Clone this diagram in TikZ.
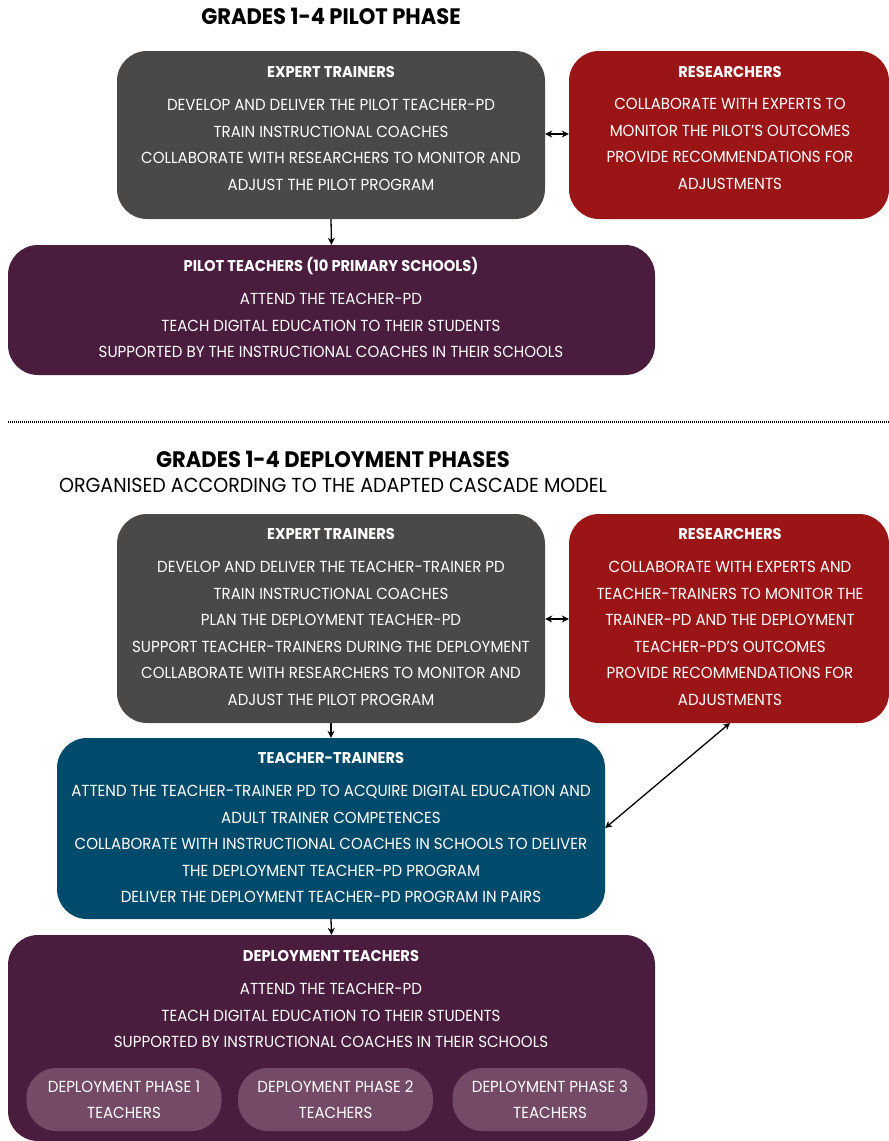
\documentclass[tikz,border=0pt]{standalone}
\usepackage{fontspec}
\setmainfont{Poppins}[FakeStretch=0.94]
\definecolor{expertgrey}{RGB}{74, 73, 72}
\definecolor{resred}{RGB}{155, 21, 22}
\definecolor{teachpurple}{RGB}{74, 28, 61}
\definecolor{trainerblue}{RGB}{0, 75, 108}
\definecolor{phasepill}{RGB}{116, 74, 103}
\usetikzlibrary{arrows.meta, positioning, calc}
\tikzset{
  box/.style={rounded corners=30pt, inner sep=0pt},
  pill/.style={rounded corners=30pt, inner sep=0pt, fill=phasepill, minimum width=195pt, minimum height=63pt},
  head/.style={text=white, font=\fontsize{15.6}{18}\selectfont\bfseries, anchor=base, yshift=-1pt},
  body/.style={text=white, font=\fontsize{16}{19}\selectfont, anchor=base, yshift=-1pt},
  title/.style={font=\fontsize{22.4}{26}\selectfont\bfseries, anchor=base},
  link/.style={line width=1.3pt, -{Stealth[length=7pt, width=7pt]}},
  twolink/.style={line width=1.3pt, {Stealth[length=7pt, width=7pt]}-{Stealth[length=7pt, width=7pt]}}
}
\begin{document}
\begin{tikzpicture}[x=1pt, y=-1pt]
  \useasboundingbox (0,0) rectangle (889,1141);

  % Pilot phase
  \node[title] (pilottitle) at (331, 24) {GRADES 1-4 PILOT PHASE};

  \node[box, fill=expertgrey, minimum width=428pt, minimum height=168pt] (expert1) at (331, 135) {};
  \node[box, fill=resred, minimum width=320pt, minimum height=168pt] (res1) at (729, 135) {};
  \node[box, fill=teachpurple, minimum width=647pt, minimum height=130pt] (pilot) at (331.5, 310) {};

  \node[head] at (331, 76) {EXPERT TRAINERS};
  \foreach \t [count=\i] in {DEVELOP AND DELIVER THE PILOT TEACHER-PD, TRAIN INSTRUCTIONAL COACHES,
      COLLABORATE WITH RESEARCHERS TO MONITOR AND, ADJUST THE PILOT PROGRAM}
    \node[body] at (331, 109.5 + 26.5*\i - 26.5) {\t};

  \node[head] at (730, 76) {RESEARCHERS};
  \foreach \t [count=\i] in {COLLABORATE WITH EXPERTS TO, MONITOR THE PILOT'S OUTCOMES,
      PROVIDE RECOMMENDATIONS FOR, ADJUSTMENTS}
    \node[body] at (730, 108.5 + 26.5*\i - 26.5) {\t};

  \node[head] at (331, 270) {PILOT TEACHERS (10 PRIMARY SCHOOLS)};
  \foreach \t [count=\i] in {ATTEND THE TEACHER-PD, TEACH DIGITAL EDUCATION TO THEIR STUDENTS,
      SUPPORTED BY THE INSTRUCTIONAL COACHES IN THEIR SCHOOLS}
    \node[body] at (331, 303.5 + 26.5*\i - 26.5) {\t};

  \draw[twolink] (expert1.east |- 0,134) -- (res1.west |- 0,134);
  \draw[link] (expert1.south) -- (pilot.north);

  % Separator
  \draw[line width=1.3pt, dash pattern=on 1pt off 1pt] (8, 422) -- (889, 422);

  % Deployment phases
  \node[title] (deptitle) at (333, 467) {GRADES 1-4 DEPLOYMENT PHASES};
  \node[font=\fontsize{20.3}{24}\selectfont, anchor=base] (depsub) at (333, 492.5) {ORGANISED ACCORDING TO THE ADAPTED CASCADE MODEL};

  \node[box, fill=expertgrey, minimum width=428pt, minimum height=209pt] (expert2) at (331, 618.5) {};
  \node[box, fill=resred, minimum width=320pt, minimum height=209pt] (res2) at (729, 618.5) {};
  \node[box, fill=trainerblue, minimum width=548pt, minimum height=181pt] (trainers) at (331, 828.5) {};
  \node[box, fill=teachpurple, minimum width=647pt, minimum height=206pt] (depteach) at (331.5, 1038) {};

  \node[head] at (331, 538) {EXPERT TRAINERS};
  \foreach \t [count=\i] in {DEVELOP AND DELIVER THE TEACHER-TRAINER PD, TRAIN INSTRUCTIONAL COACHES,
      PLAN THE DEPLOYMENT TEACHER-PD, SUPPORT TEACHER-TRAINERS DURING THE DEPLOYMENT,
      COLLABORATE WITH RESEARCHERS TO MONITOR AND, ADJUST THE PILOT PROGRAM}
    \node[body] at (331, 571.5 + 26.5*\i - 26.5) {\t};

  \node[head] at (730, 538) {RESEARCHERS};
  \foreach \t [count=\i] in {COLLABORATE WITH EXPERTS AND, TEACHER-TRAINERS TO MONITOR THE,
      TRAINER-PD AND THE DEPLOYMENT, TEACHER-PD'S OUTCOMES,
      PROVIDE RECOMMENDATIONS FOR, ADJUSTMENTS}
    \node[body] at (730, 571.5 + 26.5*\i - 26.5) {\t};

  \node[head] at (331, 762) {TEACHER-TRAINERS};
  \foreach \t [count=\i] in {ATTEND THE TEACHER-TRAINER PD TO ACQUIRE DIGITAL EDUCATION AND,
      ADULT TRAINER COMPETENCES, COLLABORATE WITH INSTRUCTIONAL COACHES IN SCHOOLS TO DELIVER,
      THE DEPLOYMENT TEACHER-PD PROGRAM, DELIVER THE DEPLOYMENT TEACHER-PD PROGRAM IN PAIRS}
    \node[body] at (331, 795.5 + 26.5*\i - 26.5) {\t};

  \node[head] at (331, 960) {DEPLOYMENT TEACHERS};
  \foreach \t [count=\i] in {ATTEND THE TEACHER-PD, TEACH DIGITAL EDUCATION TO THEIR STUDENTS,
      SUPPORTED BY INSTRUCTIONAL COACHES IN THEIR SCHOOLS}
    \node[body] at (331, 993.5 + 26.5*\i - 26.5) {\t};

  % Phase pills
  \foreach \x/\n in {124/1, 335.5/2, 550/3} {
    \node[pill] (phase\n) at (\x, 1099.5) {};
    \node[body] at (\x, 1091.5) {DEPLOYMENT PHASE \n};
    \node[body] at (\x, 1117.5) {TEACHERS};
  }

  \draw[twolink] (expert2.east |- 0,619) -- (res2.west |- 0,619);
  \draw[link] (expert2.south) -- (trainers.north);
  \draw[link] (trainers.south) -- (depteach.north);
  \coordinate (resfoot) at (730, 723);
  \draw[twolink] (trainers.east |- 0,828) -- (resfoot);
\end{tikzpicture}
\end{document}
